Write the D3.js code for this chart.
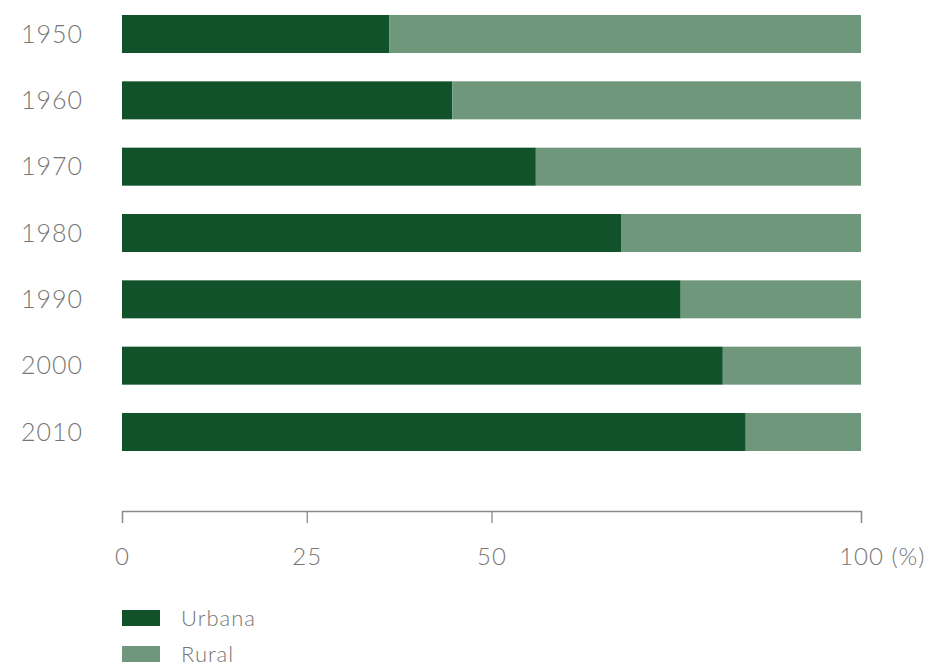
<!DOCTYPE html>
<html>
<head>
<meta charset="utf-8">
<script src="https://cdn.jsdelivr.net/npm/d3@7"></script>
<style>
  body { margin: 0; background: #fff; }
  text { font-family: "Lato", "Open Sans", sans-serif; font-weight: 300; fill: #767676; letter-spacing: 1px; }
</style>
</head>
<body>
<div id="chart"></div>
<script>
const years = ['1950', '1960', '1970', '1980', '1990', '2000', '2010'];
const urbana = [36.2, 44.7, 56.0, 67.6, 75.6, 81.3, 84.4];
const rural = [63.8, 55.3, 44.0, 32.4, 24.4, 18.7, 15.6];
const xTicks = [0, 25, 50, 100];
const seriesNames = ['Urbana', 'Rural'];
const colors = ['#11522a', '#6f977c'];

const width = 930, height = 667;
const svg = d3.select('#chart').append('svg')
  .attr('width', width)
  .attr('height', height);

const x = d3.scaleLinear().domain([0, 100]).range([122, 861]);
const y = d3.scaleBand().domain(years).range([15, 451]).paddingInner(0.427).paddingOuter(0);

const rows = years.map((yr, i) => ({ year: yr, Urbana: urbana[i], Rural: rural[i] }));
const stack = d3.stack().keys(seriesNames)(rows);
const color = d3.scaleOrdinal().domain(seriesNames).range(colors);

svg.append('g')
  .selectAll('g')
  .data(stack)
  .join('g')
  .attr('fill', d => color(d.key))
  .selectAll('rect')
  .data(d => d)
  .join('rect')
  .attr('x', d => x(d[0]))
  .attr('y', d => y(d.data.year))
  .attr('width', d => x(d[1]) - x(d[0]))
  .attr('height', y.bandwidth());

// year labels
svg.append('g')
  .selectAll('text')
  .data(years)
  .join('text')
  .attr('x', 21)
  .attr('y', d => y(d) + y.bandwidth() / 2)
  .attr('dy', '0.35em')
  .style('font-size', '25px')
  .text(d => d);

// x axis
const axis = svg.append('g')
  .attr('transform', 'translate(0,511)')
  .call(d3.axisBottom(x).tickValues(xTicks).tickSize(12).tickSizeOuter(12).tickPadding(25));

axis.select('.domain').attr('stroke', '#8a8a8a').attr('stroke-width', 1.3);
axis.selectAll('.tick line').attr('stroke', '#8a8a8a').attr('stroke-width', 1.3);
axis.selectAll('.tick text')
  .style('font-size', '24px')
  .attr('fill', '#767676');

const last = axis.selectAll('.tick text').filter(d => d === 100);
const w100 = last.node().getComputedTextLength();
last.attr('text-anchor', 'start').attr('x', -w100 / 2).append('tspan').text(' (%)');

// legend
const legend = svg.append('g')
  .selectAll('g')
  .data(seriesNames)
  .join('g')
  .attr('transform', (d, i) => `translate(122,${610 + i * 36})`);

legend.append('rect')
  .attr('width', 38)
  .attr('height', 16)
  .attr('fill', d => color(d));

legend.append('text')
  .attr('x', 59)
  .attr('y', 8)
  .attr('dy', '0.35em')
  .style('font-size', '22px')
  .text(d => d);
</script>
</body>
</html>
